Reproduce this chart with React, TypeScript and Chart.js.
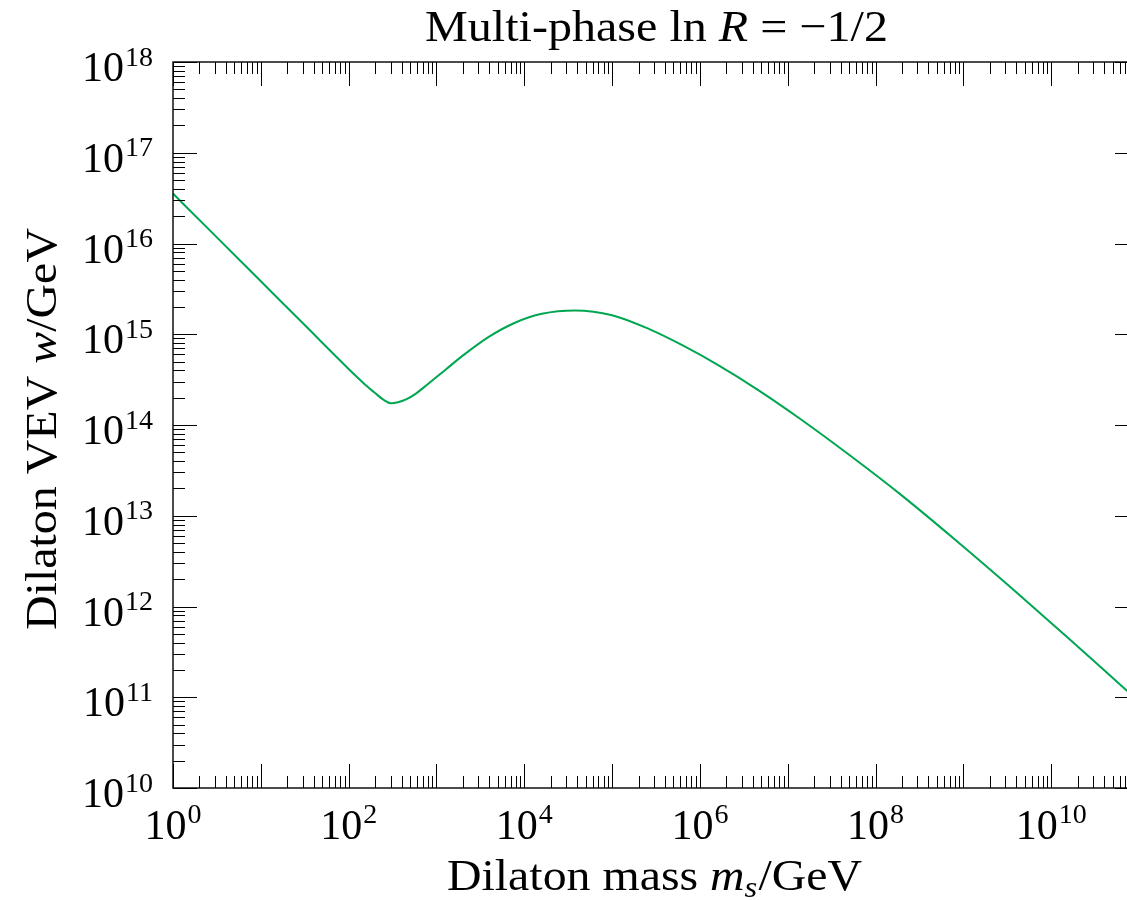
import React, { useEffect, useRef } from "react";
import { Chart, registerables } from "chart.js";

Chart.register(...registerables);

// ---- data ----
const massGeV = [
  1, 3.16, 10, 31.6, 100, 126, 158, 200, 251, 302, 363, 457, 562, 794, 1259, 1995,
  3981, 7943, 1.585e4, 3.76e4, 1.0e5, 2.69e5, 6.46e5, 1.58e6, 4.57e6, 1.38e7,
  5.13e7, 2.0e8, 8.32e8, 3.72e9, 1.62e10, 7.24e10, 1.0e11,
];
const vevGeV = [
  3.55e16, 1.167e16, 3.837e15, 1.262e15, 4.15e14, 3.342e14, 2.723e14, 2.249e14,
  1.888e14, 1.738e14, 1.778e14, 1.928e14, 2.163e14, 2.81e14, 4.046e14, 5.81e14, 9.4e14,
  1.346e15, 1.679e15, 1.828e15, 1.622e15, 1.132e15, 7.48e14, 4.62e14, 2.44e14,
  1.172e14, 4.61e13, 1.667e13, 5.31e12, 1.531e12, 4.365e11, 1.189e11, 9.02e10,
];
const xLabelExponents = ["0", "2", "4", "6", "8", "10"];
const yLabelExponents = ["10", "11", "12", "13", "14", "15", "16", "17", "18"];
const titleText = { pre: "Multi-phase ln ", sym: "R", post: " = \u22121/2" };
const xTitle = { pre: "Dilaton mass ", sym: "m", sub: "s", post: "/GeV" };
const yTitle = { pre: "Dilaton VEV ", sym: "w", post: "/GeV" };

const X_MIN = 1;
const X_MAX = 1e11;
const Y_MIN = 1e10;
const Y_MAX = 1e18;

const FAMILY = '"Liberation Serif", "Times New Roman", serif';
const ROMAN = `42px ${FAMILY}`;
const SUPER = `28px ${FAMILY}`;
const LROMAN = `44px ${FAMILY}`;
const LITALIC = `italic 44px ${FAMILY}`;
const LSUB = `italic 30px ${FAMILY}`;

type Run = { text: string; font: string; dy?: number; gap?: number };

function drawRuns(
  ctx: CanvasRenderingContext2D,
  runs: Run[],
  x: number,
  y: number,
  align: "left" | "center" | "right",
  targetWidth?: number
) {
  const widths: number[] = [];
  let total = 0;
  for (const r of runs) {
    ctx.font = r.font;
    const w = ctx.measureText(r.text).width + (r.gap || 0);
    widths.push(w);
    total += w;
  }
  const s = targetWidth ? targetWidth / total : 1;
  const full = total * s;
  const startX = align === "center" ? x - full / 2 : align === "right" ? x - full : x;
  ctx.save();
  ctx.translate(startX, y);
  ctx.scale(s, 1);
  ctx.textAlign = "left";
  ctx.textBaseline = "alphabetic";
  let cx = 0;
  runs.forEach((r, i) => {
    ctx.font = r.font;
    ctx.fillText(r.text, cx + (r.gap || 0), r.dy || 0);
    cx += widths[i];
  });
  ctx.restore();
}

const framePlugin = {
  id: "frameAndLabels",
  afterDraw(chart: any) {
    const { ctx, chartArea: a, scales } = chart;
    const xs = scales.x;
    const ys = scales.y;
    ctx.save();
    ctx.fillStyle = "#000";
    ctx.strokeStyle = "#000";

    // minor / major ticks, inward, on all four sides
    ctx.lineWidth = 1;
    ctx.beginPath();
    const xe0 = Math.round(Math.log10(X_MIN));
    const xe1 = Math.round(Math.log10(X_MAX));
    for (let k = xe0; k <= xe1; k++) {
      for (let m = 1; m <= 9; m++) {
        const v = m * Math.pow(10, k);
        if (v > X_MAX * 1.0001) continue;
        const px = Math.round(xs.getPixelForValue(v)) + 0.5;
        const len = m === 1 ? 24 : 12;
        ctx.moveTo(px, a.bottom);
        ctx.lineTo(px, a.bottom - len);
        ctx.moveTo(px, a.top);
        ctx.lineTo(px, a.top + len);
      }
    }
    const ye0 = Math.round(Math.log10(Y_MIN));
    const ye1 = Math.round(Math.log10(Y_MAX));
    for (let k = ye0; k <= ye1; k++) {
      for (let m = 1; m <= 9; m++) {
        const v = m * Math.pow(10, k);
        if (v > Y_MAX * 1.0001) continue;
        const py = Math.round(ys.getPixelForValue(v)) + 0.5;
        const len = m === 1 ? 24 : 12;
        ctx.moveTo(a.left, py);
        ctx.lineTo(a.left + len, py);
        ctx.moveTo(a.right, py);
        ctx.lineTo(a.right - len, py);
      }
    }
    ctx.stroke();

    // frame
    ctx.lineWidth = 1.4;
    ctx.strokeRect(a.left, a.top, a.right - a.left, a.bottom - a.top);

    // x tick labels
    for (const e of xLabelExponents) {
      const px = xs.getPixelForValue(Math.pow(10, Number(e)));
      drawRuns(ctx, [
        { text: "10", font: ROMAN },
        { text: e, font: SUPER, dy: -16, gap: 1 },
      ], px, 839, "center");
    }
    // y tick labels
    for (const e of yLabelExponents) {
      const py = ys.getPixelForValue(Math.pow(10, Number(e)));
      drawRuns(ctx, [
        { text: "10", font: ROMAN },
        { text: e, font: SUPER, dy: -15.5, gap: 1 },
      ], 153, py + 19, "right");
    }

    // title
    drawRuns(ctx, [
      { text: titleText.pre, font: LROMAN },
      { text: titleText.sym, font: LITALIC },
      { text: titleText.post, font: LROMAN },
    ], 656.5, 41, "center", 463);
    // x title
    drawRuns(ctx, [
      { text: xTitle.pre, font: LROMAN },
      { text: xTitle.sym, font: LITALIC },
      { text: xTitle.sub, font: LSUB, dy: 7 },
      { text: xTitle.post, font: LROMAN, gap: 1 },
    ], 654.5, 890, "center", 415);
    // y title
    ctx.save();
    ctx.translate(56, 429);
    ctx.rotate(-Math.PI / 2);
    drawRuns(ctx, [
      { text: yTitle.pre, font: LROMAN },
      { text: yTitle.sym, font: LITALIC },
      { text: yTitle.post, font: LROMAN },
    ], 0, 0, "center", 402);
    ctx.restore();

    ctx.restore();
  },
};

export default function App() {
  const canvasRef = useRef<HTMLCanvasElement | null>(null);

  useEffect(() => {
    const canvas = canvasRef.current;
    if (!canvas) return;
    const points = massGeV.map((m, i) => ({ x: m, y: vevGeV[i] }));
    const chart = new Chart(canvas, {
      type: "line",
      data: {
        datasets: [
          {
            data: points,
            borderColor: "#00a651",
            borderWidth: 2,
            pointRadius: 0,
            fill: false,
            cubicInterpolationMode: "monotone",
          },
        ],
      },
      options: {
        responsive: false,
        animation: false,
        devicePixelRatio: 1,
        layout: { padding: { left: 173, top: 62, right: 1160 - 1139, bottom: 112 } },
        plugins: {
          legend: { display: false },
          tooltip: { enabled: false },
          title: { display: false },
        },
        scales: {
          x: { type: "logarithmic", min: X_MIN, max: X_MAX, display: false },
          y: { type: "logarithmic", min: Y_MIN, max: Y_MAX, display: false },
        },
      },
      plugins: [framePlugin],
    } as any);
    return () => chart.destroy();
  }, []);

  return (
    <div style={{ position: "absolute", left: 0, top: 0, width: 1127, height: 900, overflow: "hidden", background: "#fff" }}>
      <canvas ref={canvasRef} width={1160} height={900} style={{ display: "block" }} />
    </div>
  );
}
